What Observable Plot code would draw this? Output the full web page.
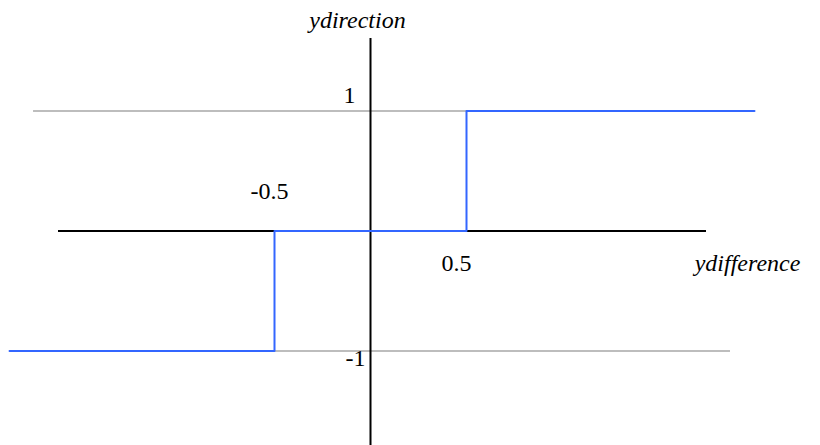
<!DOCTYPE html>
<html>
<head>
<meta charset="utf-8">
<script src="https://cdn.jsdelivr.net/npm/d3@7"></script>
<script src="https://cdn.jsdelivr.net/npm/@observablehq/plot@0.6"></script>
<style>
  html, body { margin: 0; padding: 0; background: #fff; }
  #chart svg { display: block; }
  .pre { font-family: "Liberation Serif", serif; font-size: 24px; height: 0; overflow: hidden; }
</style>
</head>
<body>
<div class="pre">&nbsp;<i>&nbsp;</i></div>
<div id="chart"></div>
<script>
// Step function values (ydifference -> ydirection)
const stepX = [-1.88, -0.5, 0.5, 2.0];
const stepY = [-1, 0, 1, 1];

// Gridlines at y = 1 and y = -1 with their extents
const gridY = [1, -1];
const gridX1 = [-1.755, -1.88];
const gridX2 = [2.0, 1.875];

// Axis extents
const xAxisExtent = [-1.625, 1.75];
const yAxisExtent = [-1.8, 1.604];

// Tick labels
const xTickValues = [-0.5, 0.5];
const xTickLabels = ["-0.5", "0.5"];
const yTickValues = [1, -1];
const yTickLabels = ["1", "-1"];

// Axis titles
const xTitle = "ydifference";
const yTitle = "ydirection";

const step = stepX.map((x, i) => ({x, y: stepY[i]}));
const grid = gridY.map((y, i) => ({y, x1: gridX1[i], x2: gridX2[i]}));

const labels = [
  {x: xTickValues[0], y: 0, text: xTickLabels[0], dx: -5, dy: -40, anchor: "middle", italic: false},
  {x: xTickValues[1], y: 0, text: xTickLabels[1], dx: -10, dy: 32, anchor: "middle", italic: false},
  {x: 0, y: yTickValues[0], text: yTickLabels[0], dx: -15, dy: -16, anchor: "end", italic: false},
  {x: 0, y: yTickValues[1], text: yTickLabels[1], dx: -5, dy: 7, anchor: "end", italic: false},
  {x: 0, y: yAxisExtent[1], text: yTitle, dx: -13, dy: -18, anchor: "middle", italic: true},
  {x: xAxisExtent[1], y: 0, text: xTitle, dx: 41, dy: 32, anchor: "middle", italic: true}
];

const serif = "'Liberation Serif', 'Times New Roman', Times, serif";

function draw() {
  const textMarks = labels.map(l =>
    Plot.text([l], {
      x: "x", y: "y", text: "text",
      dx: l.dx, dy: l.dy, textAnchor: l.anchor,
      fontSize: 24, fontFamily: serif,
      fontStyle: l.italic ? "italic" : "normal",
      fill: "#000"
    })
  );

  const chart = Plot.plot({
    width: 820,
    height: 445,
    margin: 0,
    x: {axis: null, domain: [-370 / 192, 450 / 192]},
    y: {axis: null, domain: [(230.5 - 445) / 120, 230.5 / 120]},
    marks: [
      Plot.ruleY(grid, {y: "y", x1: "x1", x2: "x2", stroke: "#bdbdbd", strokeWidth: 2}),
      Plot.ruleY([0], {x1: xAxisExtent[0], x2: xAxisExtent[1], stroke: "#000", strokeWidth: 2}),
      Plot.ruleX([0], {y1: yAxisExtent[0], y2: yAxisExtent[1], stroke: "#000", strokeWidth: 2}),
      Plot.line(step, {x: "x", y: "y", curve: "step-after", stroke: "#3366ff", strokeWidth: 2}),
      ...textMarks
    ]
  });
  chart.querySelectorAll("text").forEach(t => {
    const italic = t.closest("g").getAttribute("font-style") === "italic";
    t.style.fontFamily = serif;
    t.style.fontSize = "24px";
    t.style.fontStyle = italic ? "italic" : "normal";
  });
  document.getElementById("chart").appendChild(chart);
}

draw();
</script>
</body>
</html>
